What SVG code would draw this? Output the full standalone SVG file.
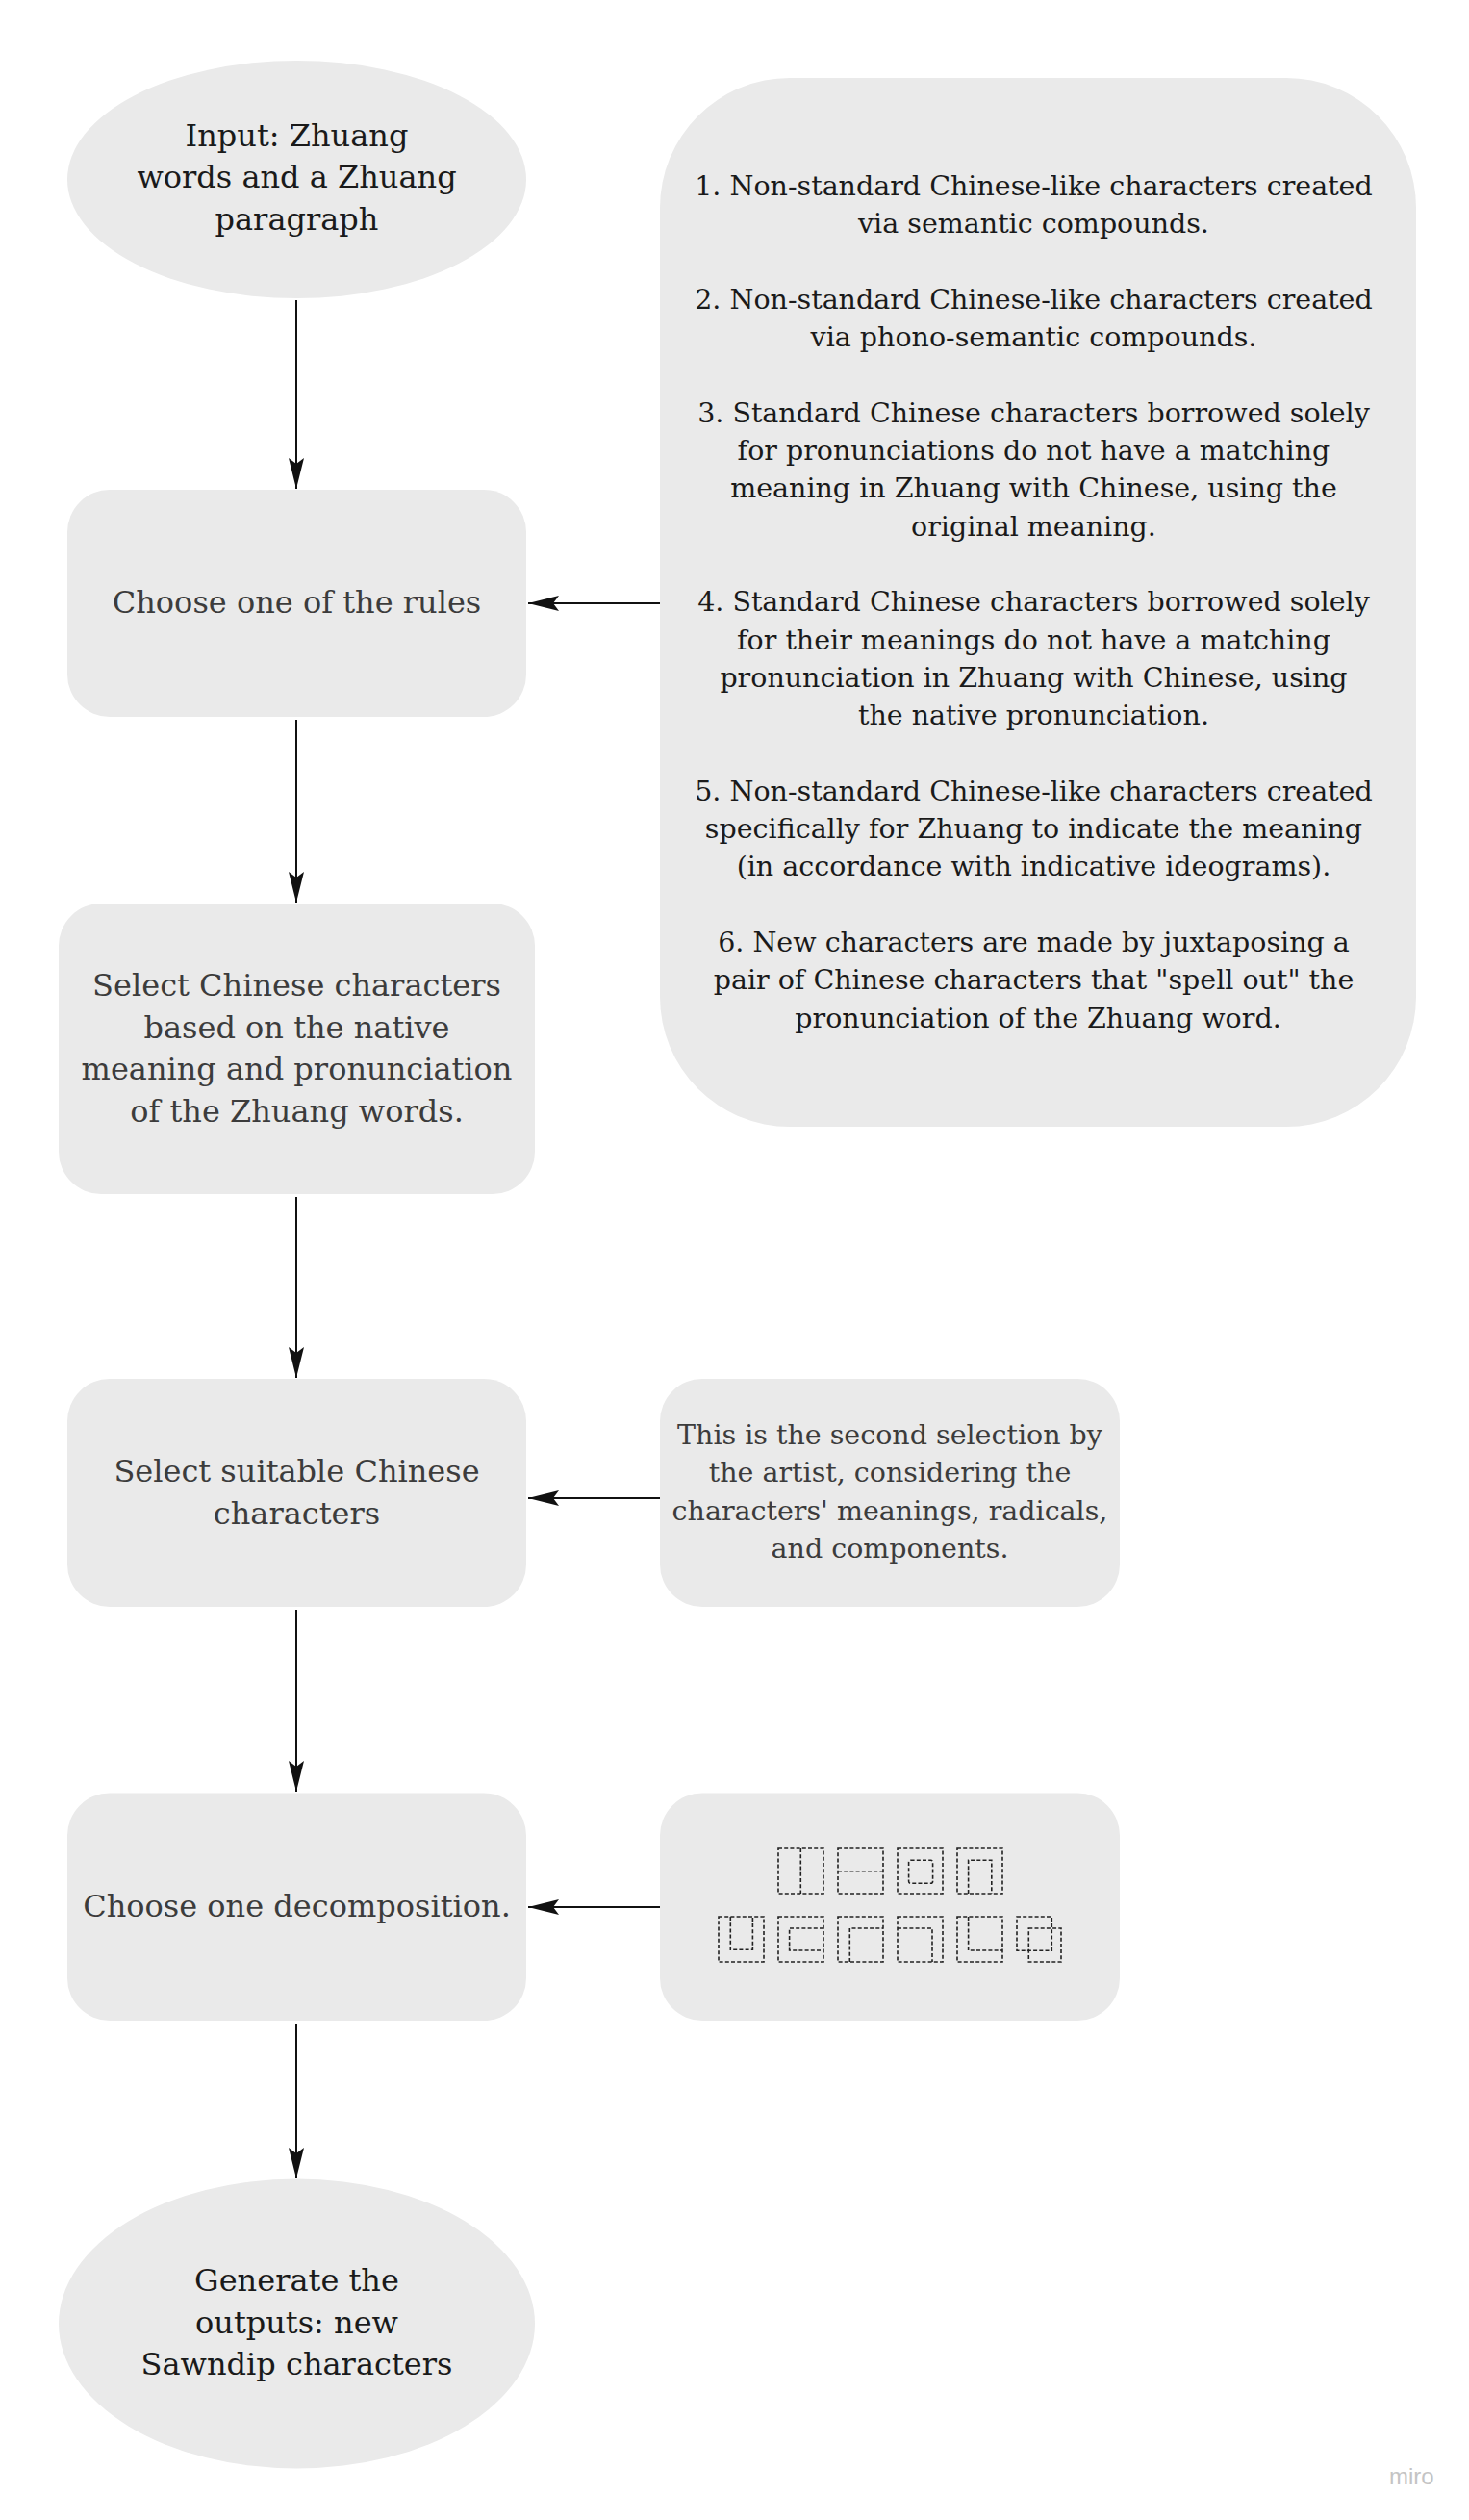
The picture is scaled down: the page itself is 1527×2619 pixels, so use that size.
<svg xmlns="http://www.w3.org/2000/svg" width="1527" height="2619" viewBox="0 0 1527 2619">
<style>
.shape{fill:#eaeaea;}
.t{font-family:"DejaVu Serif",Georgia,serif;text-anchor:middle;}
.big{font-size:32px;}
.small{font-size:28.5px;}
.dark{fill:#1a1a1a;}
.grey{fill:#3c3c3c;}
.conn{stroke:#111;stroke-width:2;fill:none;}
.ic{fill:none;stroke:#222;stroke-width:1.6;stroke-dasharray:4 2.2;}
</style>
<defs>
<marker id="ah" markerUnits="userSpaceOnUse" markerWidth="40" markerHeight="24" viewBox="-34 -12 40 24" refX="0" refY="0" orient="auto">
<path d="M0,0 L-32,-8 L-26,0 L-32,8 Z" fill="#111"/>
</marker>
</defs>
<rect width="1527" height="2619" fill="#ffffff"/>

<g id="connectors">
<line class="conn" x1="308" y1="312" x2="308" y2="508" marker-end="url(#ah)"/>
<line class="conn" x1="308" y1="748" x2="308" y2="938" marker-end="url(#ah)"/>
<line class="conn" x1="308" y1="1244" x2="308" y2="1432" marker-end="url(#ah)"/>
<line class="conn" x1="308" y1="1673" x2="308" y2="1862" marker-end="url(#ah)"/>
<line class="conn" x1="308" y1="2103" x2="308" y2="2264" marker-end="url(#ah)"/>
<line class="conn" x1="686" y1="627" x2="549" y2="627" marker-end="url(#ah)"/>
<line class="conn" x1="686" y1="1557" x2="549" y2="1557" marker-end="url(#ah)"/>
<line class="conn" x1="686" y1="1982" x2="549" y2="1982" marker-end="url(#ah)"/>
</g>

<g id="node-input">
<ellipse class="shape" cx="308.5" cy="186.5" rx="238.5" ry="123.5"/>
<text class="t big dark"><tspan x="308.5" y="151.5">Input: Zhuang</tspan><tspan x="308.5" y="195">words and a Zhuang</tspan><tspan x="308.5" y="238.5">paragraph</tspan></text>
</g>

<g id="node-rules-choice">
<rect class="shape" x="70" y="509" width="477" height="236" rx="44" ry="44"/>
<text class="t big grey" x="308.5" y="637">Choose one of the rules</text>
</g>

<g id="node-rules-list">
<rect class="shape" x="686" y="81" width="786" height="1090" rx="135" ry="135"/>
<text class="t small dark">
<tspan x="1079" y="203">1. Non-standard Chinese-like characters created</tspan>
<tspan x="1079" y="242.3">via semantic compounds.</tspan>
<tspan x="1079" y="320.9">2. Non-standard Chinese-like characters created</tspan>
<tspan x="1079" y="360.2">via phono-semantic compounds.</tspan>
<tspan x="1079" y="438.8">3. Standard Chinese characters borrowed solely</tspan>
<tspan x="1079" y="478.1">for pronunciations do not have a matching</tspan>
<tspan x="1079" y="517.4">meaning in Zhuang with Chinese, using the</tspan>
<tspan x="1079" y="556.7">original meaning.</tspan>
<tspan x="1079" y="635.3">4. Standard Chinese characters borrowed solely</tspan>
<tspan x="1079" y="674.6">for their meanings do not have a matching</tspan>
<tspan x="1079" y="713.9">pronunciation in Zhuang with Chinese, using</tspan>
<tspan x="1079" y="753.2">the native pronunciation.</tspan>
<tspan x="1079" y="831.8">5. Non-standard Chinese-like characters created</tspan>
<tspan x="1079" y="871.1">specifically for Zhuang to indicate the meaning</tspan>
<tspan x="1079" y="910.4">(in accordance with indicative ideograms).</tspan>
<tspan x="1079" y="989">6. New characters are made by juxtaposing a</tspan>
<tspan x="1079" y="1028.3">pair of Chinese characters that "spell out" the</tspan>
<tspan x="1079" y="1067.6">pronunciation of the Zhuang word.</tspan>
</text>
</g>

<g id="node-select-chinese">
<rect class="shape" x="61" y="939" width="495" height="302" rx="44" ry="44"/>
<text class="t big grey"><tspan x="308.5" y="1035">Select Chinese characters</tspan><tspan x="308.5" y="1078.5">based on the native</tspan><tspan x="308.5" y="1122">meaning and pronunciation</tspan><tspan x="308.5" y="1165.5">of the Zhuang words.</tspan></text>
</g>

<g id="node-select-suitable">
<rect class="shape" x="70" y="1433" width="477" height="237" rx="44" ry="44"/>
<text class="t big grey"><tspan x="308.5" y="1540">Select suitable Chinese</tspan><tspan x="308.5" y="1583.5">characters</tspan></text>
</g>

<g id="node-second-selection">
<rect class="shape" x="686" y="1433" width="478" height="237" rx="44" ry="44"/>
<text class="t small grey"><tspan x="925" y="1501">This is the second selection by</tspan><tspan x="925" y="1540.3">the artist, considering the</tspan><tspan x="925" y="1579.6">characters' meanings, radicals,</tspan><tspan x="925" y="1619">and components.</tspan></text>
</g>

<g id="node-decomposition">
<rect class="shape" x="70" y="1863.5" width="477" height="236.5" rx="44" ry="44"/>
<text class="t big grey" x="308.5" y="1992">Choose one decomposition.</text>
</g>

<g id="node-decomposition-types">
<rect class="shape" x="686" y="1863.5" width="478" height="236.5" rx="44" ry="44"/>
<g class="ic">
<rect x="809" y="1921" width="47" height="47"/><line x1="832.3" y1="1921" x2="832.3" y2="1968"/>
<rect x="871" y="1921" width="47" height="47"/><line x1="871" y1="1944.8" x2="918" y2="1944.8"/>
<rect x="933" y="1921" width="47" height="47"/><rect x="944.6" y="1933.3" width="25" height="24" rx="2"/>
<rect x="995" y="1921" width="47" height="47"/><path d="M1006.6,1968 V1933.3 H1030.8 V1968"/>
<rect x="747" y="1992" width="47" height="47"/><path d="M759.3,1992 V2026.3 H782.4 V1992"/>
<rect x="809" y="1992" width="47" height="47"/><path d="M856,2004 H820.6 V2027 H856"/>
<rect x="871" y="1992" width="47" height="47"/><path d="M883.3,2039 V2004 H918"/>
<rect x="933" y="1992" width="47" height="47"/><path d="M933,2004 H969 V2039"/>
<rect x="995" y="1992" width="47" height="47"/><path d="M1006.6,1992 V2027 H1042"/>
<rect x="1057" y="1992" width="36.3" height="35.3"/><rect x="1069.3" y="2004" width="33.7" height="35"/>
</g>
</g>

<g id="node-output">
<ellipse class="shape" cx="308.5" cy="2415" rx="247.5" ry="150.5"/>
<text class="t big dark"><tspan x="308.5" y="2381">Generate the</tspan><tspan x="308.5" y="2424.5">outputs: new</tspan><tspan x="308.5" y="2468">Sawndip characters</tspan></text>
</g>

<text x="1444" y="2582" font-family="'Liberation Sans',Arial,sans-serif" font-size="24" fill="#c4c4c4">miro</text>
</svg>
